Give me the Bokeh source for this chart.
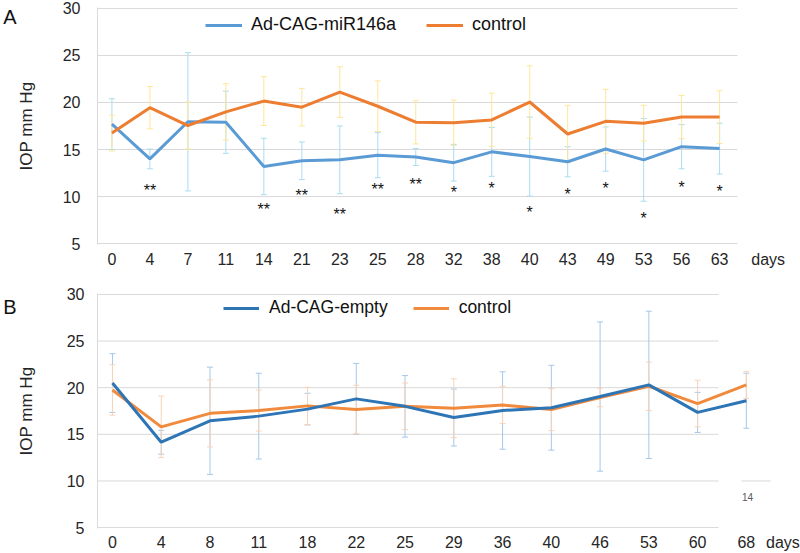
from bokeh.plotting import figure
from bokeh.models import (Range1d, FixedTicker, Whisker, TeeHead, ColumnDataSource,
                          Legend, LegendItem, Label, LinearAxis)
from bokeh.layouts import column
from bokeh.core.properties import value
from bokeh.embed import file_html
from bokeh.resources import INLINE

# ---------------- data: panel A ----------------
days_a = ["0", "4", "7", "11", "14", "21", "23", "25", "28", "32", "38", "40", "43", "49", "53", "56", "63"]
mir146a = [17.7, 14.0, 17.95, 17.9, 13.2, 13.8, 13.9, 14.4, 14.2, 13.6, 14.75, 14.25, 13.7, 15.05, 13.9, 15.3, 15.1]
mir146a_err = [2.7, 1.05, 7.35, 3.3, 3.0, 2.0, 3.6, 2.4, 0.9, 1.95, 2.6, 4.2, 1.6, 2.35, 4.4, 2.35, 2.7]
control_a = [16.75, 19.45, 17.55, 19.0, 20.15, 19.5, 21.1, 19.6, 17.9, 17.85, 18.15, 20.05, 16.65, 18.0, 17.8, 18.45, 18.45]
control_a_err = [1.9, 2.25, 2.5, 3.0, 2.6, 2.0, 2.7, 2.7, 2.3, 2.4, 2.85, 3.85, 3.05, 3.4, 1.9, 2.3, 2.8]
sig_idx = [1, 4, 5, 6, 7, 8, 9, 10, 11, 12, 13, 14, 15, 16]
sig_text = ["**", "**", "**", "**", "**", "**", "*", "*", "*", "*", "*", "*", "*", "*"]
sig_y = [11.1, 9.03, 10.5, 8.47, 11.18, 11.75, 10.83, 11.28, 8.75, 10.6, 11.25, 8.06, 11.35, 11.0]

# ---------------- data: panel B ----------------
days_b = ["0", "4", "8", "11", "18", "22", "25", "29", "36", "40", "46", "53", "60", "68"]
empty = [20.5, 14.15, 16.45, 16.95, 17.7, 18.8, 18.0, 16.8, 17.55, 17.85, 19.05, 20.3, 17.35, 18.6]
empty_err = [3.15, 1.28, 5.75, 4.6, 1.7, 3.8, 3.3, 3.05, 4.15, 4.55, 8.0, 7.9, 2.15, 2.95]
control_b = [19.75, 15.8, 17.25, 17.55, 18.05, 17.65, 18.0, 17.8, 18.15, 17.65, 18.95, 20.15, 18.3, 20.3]
control_b_err = [2.7, 3.3, 3.6, 2.2, 2.0, 2.6, 2.5, 3.15, 2.0, 2.25, 1.0, 2.6, 2.5, 1.45]

y_ticks = [5, 10, 15, 20, 25, 30]
unit_label = "days"

FONT = "Liberation Sans"
GRID = "#d9d9d9"
TXT = "#262626"


def style(p, days, days_pos, x_start, grid_end):
    p.outline_line_color = None
    p.xgrid.visible = False
    p.ygrid.visible = False
    ticks = list(range(len(days))) + [days_pos]
    overrides = {i: d for i, d in enumerate(days)}
    overrides[days_pos] = unit_label
    p.xaxis.ticker = FixedTicker(ticks=ticks)
    p.xaxis.major_label_overrides = overrides
    p.yaxis.ticker = FixedTicker(ticks=y_ticks)
    for ax in (p.xaxis[0], p.yaxis[0]):
        ax.major_tick_line_color = None
        ax.minor_tick_line_color = None
        ax.major_tick_out = 0
        ax.major_label_text_font = FONT
        ax.major_label_text_font_size = "16px"
        ax.major_label_text_color = TXT
    p.xaxis.axis_line_color = None
    p.yaxis.axis_line_color = GRID
    p.yaxis.axis_label = "IOP mm Hg"
    p.yaxis.axis_label_text_font = FONT
    p.yaxis.axis_label_text_font_size = "17px"
    p.yaxis.axis_label_text_font_style = "normal"
    p.yaxis.axis_label_text_color = TXT
    # horizontal grid lines that stop where the reference's grid stops
    p.segment(x0=[x_start] * len(y_ticks), x1=[grid_end] * len(y_ticks), y0=y_ticks, y1=y_ticks,
              line_color=GRID, line_width=1, level="underlay")


def panel_letter(p, letter, y):
    ax = LinearAxis(ticker=FixedTicker(ticks=[y]), major_label_overrides={y: letter},
                    axis_line_color=None, major_tick_line_color=None, minor_tick_line_color=None,
                    major_tick_out=0, major_label_standoff=-3,
                    major_label_text_font=FONT, major_label_text_font_size="20px",
                    major_label_text_color="#111111")
    p.add_layout(ax, "left")


def errbars(p, xs, mean, err, color):
    src = ColumnDataSource(dict(x=xs,
                                upper=[m + e for m, e in zip(mean, err)],
                                lower=[m - e for m, e in zip(mean, err)]))
    w = Whisker(base="x", upper="upper", lower="lower", source=src,
                line_color=color, line_width=1,
                upper_head=TeeHead(size=6, line_color=color, line_width=1),
                lower_head=TeeHead(size=6, line_color=color, line_width=1),
                level="underlay")
    p.add_layout(w)


# ================= panel A =================
xa = list(range(len(days_a)))
xa0 = -0.38
p1 = figure(width=800, height=278, x_range=Range1d(xa0, 18.13), y_range=Range1d(4.9, 30.1),
            output_backend="svg", toolbar_location=None,
            min_border_left=97, min_border_right=0, min_border_top=7, min_border_bottom=34)
style(p1, days_a, 17.28, xa0, 16.47)
p1.xaxis.major_label_standoff = 6
p1.yaxis.major_label_standoff = 17
p1.yaxis.axis_label_standoff = 24
panel_letter(p1, "A", 29.1)

errbars(p1, xa, mir146a, mir146a_err, "#a9dcf2")
errbars(p1, xa, control_a, control_a_err, "#ffe699")
la1 = p1.line(xa, mir146a, line_color="#5b9bd5", line_width=3)
la2 = p1.line(xa, control_a, line_color="#ed7d31", line_width=3)

sig_src = ColumnDataSource(dict(x=sig_idx, y=sig_y, t=sig_text))
p1.text(x="x", y="y", text="t", source=sig_src, text_align="center", text_baseline="middle",
        text_font=value(FONT), text_font_size="16px", text_color="#111111", y_offset=4)

leg1 = Legend(items=[LegendItem(label="Ad-CAG-miR146a", renderers=[la1]),
                     LegendItem(label="control", renderers=[la2])],
              orientation="horizontal", location=(108, 209), padding=0, margin=0,
              spacing=30, label_standoff=9, glyph_width=37, glyph_height=20, label_height=20,
              border_line_color=None, background_fill_alpha=0,
              label_text_font=FONT, label_text_font_size="18px", label_text_color="#111111")
p1.add_layout(leg1)

# ================= panel B =================
xb = list(range(len(days_b)))
xb0 = -0.307
p2 = figure(width=800, height=275, x_range=Range1d(xb0, 14.11), y_range=Range1d(4.9, 30.1),
            output_backend="svg", toolbar_location=None,
            min_border_left=95, min_border_right=0, min_border_top=15, min_border_bottom=24)
style(p2, days_b, 13.75, xb0, 12.43)
p2.xaxis.major_label_standoff = 5
p2.yaxis.major_label_standoff = 13
p2.yaxis.axis_label_standoff = 28
panel_letter(p2, "B", 28.66)

# stray fragment of another chart visible in the reference (short rule with "14")
p2.segment(x0=[12.9], x1=[13.5], y0=[10], y1=[10], line_color=GRID, line_width=1)
p2.add_layout(Label(x=12.91, y=8.28, text="14", text_font=FONT, text_font_size="10px",
                    text_color="#595959", text_baseline="middle", text_align="left"))

errbars(p2, xb, empty, empty_err, "#a4c8ea")
errbars(p2, xb, control_b, control_b_err, "#f9d3b8")
lb2 = p2.line(xb, control_b, line_color="#f08a3d", line_width=3)
lb1 = p2.line(xb, empty, line_color="#2e75b6", line_width=3)

leg2 = Legend(items=[LegendItem(label="Ad-CAG-empty", renderers=[lb1]),
                     LegendItem(label="control", renderers=[lb2])],
              orientation="horizontal", location=(126, 210), padding=0, margin=0,
              spacing=25, label_standoff=10, glyph_width=36, glyph_height=20, label_height=20,
              border_line_color=None, background_fill_alpha=0,
              label_text_font=FONT, label_text_font_size="17.5px", label_text_color="#111111")
p2.add_layout(leg2)

layout = column(p1, p2, spacing=0)
open("out.html", "w").write(file_html(layout, INLINE))
